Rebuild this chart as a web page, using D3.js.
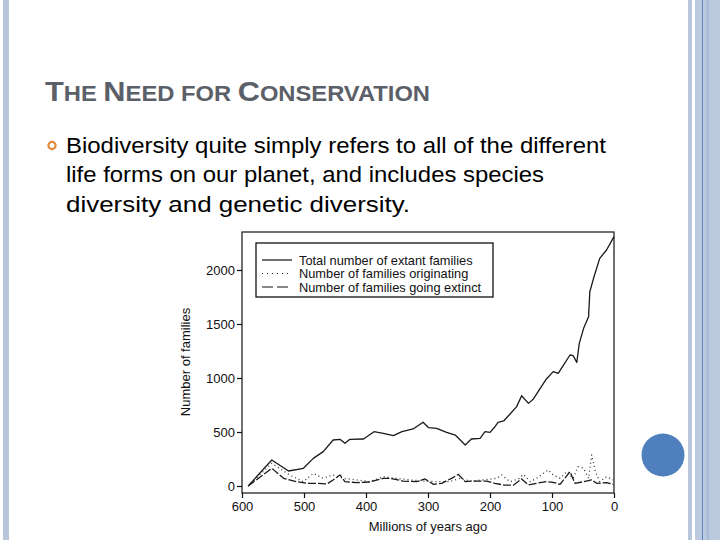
<!DOCTYPE html>
<html><head><meta charset="utf-8">
<script src="https://cdn.jsdelivr.net/npm/d3@7/dist/d3.min.js"></script>
<style>body{margin:0;background:#fff}svg{display:block}</style>
</head><body>
<svg id="c" width="720" height="540"></svg>
<script>
// ---- data ----
const titleParts = [["T",1],["HE ",0],["N",1],["EED FOR ",0],["C",1],["ONSERVATION",0]];
const bodyLines = ["Biodiversity quite simply refers to all of the different",
                   "life forms on our planet, and includes species",
                   "diversity and genetic diversity."];
const xTicks = [600, 500, 400, 300, 200, 100, 0];
const yTicks = [0, 500, 1000, 1500, 2000];
const legendLabels = ["Total number of extant families","Number of families originating","Number of families going extinct"];
const xTitle = "Millions of years ago";
const yTitle = "Number of families";

const totalAge   = [590,552,525,501,485,469,453,442,434,426,404,387,372,356,342,324,308,299,286,270,256,240,230,216,208,200,192,187,178,168,157,149,138,130,119,109,98,90,82,71,66,60,56,49,41,39,33,23,12,0];
const totalCount = [0,241,139,164,256,318,426,432,395,432,435,503,488,466,503,528,590,540,534,497,472,380,435,441,503,497,549,590,602,664,735,836,765,806,904,991,1059,1043,1114,1213,1207,1145,1321,1460,1568,1799,1923,2108,2185,2309];

const originAge   = [590,552,523,501,485,469,453,437,415,394,372,351,329,308,286,265,248,232,211,189,181,168,154,146,135,125,114,106,98,87,76,66,58,49,41,36,30,23,12,1];
const originCount = [0,210,102,40,117,71,102,71,56,40,86,71,56,46,40,40,71,46,56,71,102,40,65,108,40,71,117,148,102,71,133,71,179,164,71,287,133,40,86,56];

const extinctAge   = [590,552,533,512,496,480,463,453,442,434,415,394,372,361,340,318,305,291,278,262,251,240,227,205,192,178,162,149,138,125,109,98,87,71,63,49,36,28,12,1];
const extinctCount = [0,164,71,40,25,25,19,56,102,40,31,37,71,71,46,40,65,15,25,71,108,40,46,46,25,9,9,65,9,25,40,34,15,133,25,40,56,25,31,15];

// ---- drawing ----
const svg = d3.select("#c");
const sans = "Liberation Sans, Arial, Helvetica, sans-serif";

// slide decorations
svg.append("rect").attr("x",3).attr("y",0).attr("width",6).attr("height",540).attr("fill","#b8c6dc");
svg.append("rect").attr("x",688).attr("y",0).attr("width",4).attr("height",540).attr("fill","#b8c6dc");
svg.append("rect").attr("x",695).attr("y",0).attr("width",25).attr("height",540).attr("fill","#bccadf");
svg.append("rect").attr("x",706.5).attr("y",0).attr("width",2.5).attr("height",540).attr("fill","#a9bcd7");
svg.append("rect").attr("x",702).attr("y",0).attr("width",1).attr("height",540).attr("fill","#5f87bf");
svg.append("circle").attr("cx",663).attr("cy",455).attr("r",21.5).attr("fill","#4f7fbc");

// title
const t = svg.append("text").attr("x",45).attr("y",101)
  .attr("font-family",sans).attr("font-weight","bold").attr("fill","#5b6068")
  .attr("textLength",385).attr("lengthAdjust","spacingAndGlyphs");
titleParts.forEach(([s,big]) => t.append("tspan").attr("font-size", big?28.5:22).text(s));

// bullet + body
const bodyWidths = [540, 478, 344];
svg.append("circle").attr("cx",52).attr("cy",145.5).attr("r",3.6).attr("fill","none")
  .attr("stroke","#e08a3c").attr("stroke-width",2.2);
bodyLines.forEach((l,i) => svg.append("text").attr("x",66).attr("y",152.5+i*29.5)
  .attr("font-family",sans).attr("font-size",22).attr("fill","#000")
  .attr("textLength",bodyWidths[i]).attr("lengthAdjust","spacingAndGlyphs").text(l));

// chart
const x = d3.scaleLinear().domain([600,0]).range([242,614]);
const y = d3.scaleLinear().domain([0,2000]).range([486,270]);
const frameTop = 232, frameBottom = 493;
const g = svg.append("g").attr("font-family",sans);

g.append("rect").attr("x",x(600)).attr("y",frameTop).attr("width",x(0)-x(600)).attr("height",frameBottom-frameTop)
  .attr("fill","none").attr("stroke","#111").attr("stroke-width",1.2);

const ya = g.append("g").attr("transform",`translate(${x(600)},0)`)
  .call(d3.axisLeft(y).tickValues(yTicks).tickSize(5).tickPadding(2).tickFormat(d3.format("d")));
const xa = g.append("g").attr("transform",`translate(0,${frameBottom})`)
  .call(d3.axisBottom(x).tickValues(xTicks).tickSize(5).tickPadding(4).tickFormat(d3.format("d")));
[ya,xa].forEach(a => {
  a.select(".domain").remove();
  a.selectAll("line").attr("stroke","#111").attr("stroke-width",1.2);
  a.selectAll("text").attr("font-family",sans).attr("font-size",13).attr("fill","#111");
});

g.append("text").attr("x",428).attr("y",531).attr("text-anchor","middle")
  .attr("font-size",13).attr("fill","#111").text(xTitle);
g.append("text").attr("transform","translate(190,362) rotate(-90)").attr("text-anchor","middle")
  .attr("font-size",13).attr("fill","#111").text(yTitle);

const line = d3.line().x(d=>x(d[0])).y(d=>y(d[1]));
const series = [
  {age: totalAge, val: totalCount, dash: null, w: 1.3, c: "#1a1a1a"},
  {age: originAge, val: originCount, dash: "1,3", w: 1.3, c: "#333"},
  {age: extinctAge, val: extinctCount, dash: "8,2", w: 1.3, c: "#1a1a1a"}
];
series.forEach(s => {
  g.append("path").datum(d3.zip(s.age, s.val)).attr("d", line)
    .attr("fill","none").attr("stroke",s.c).attr("stroke-width",s.w)
    .attr("stroke-dasharray", s.dash).attr("stroke-linejoin","round");
});

// legend
g.append("rect").attr("x",256).attr("y",243).attr("width",237).attr("height",54)
  .attr("fill","#fff").attr("stroke","#111").attr("stroke-width",1.3);
legendLabels.forEach((lab,i) => {
  const yy = 260 + i*13.5;
  g.append("line").attr("x1",262).attr("x2",292).attr("y1",yy).attr("y2",yy)
    .attr("stroke","#111").attr("stroke-width",1.2).attr("stroke-dasharray", i==1 ? "1,4" : (i==2 ? "11,4" : null));
  g.append("text").attr("x",299).attr("y",yy+4.5).attr("font-size",12.8).attr("fill","#111").text(lab);
});
</script>
</body></html>
